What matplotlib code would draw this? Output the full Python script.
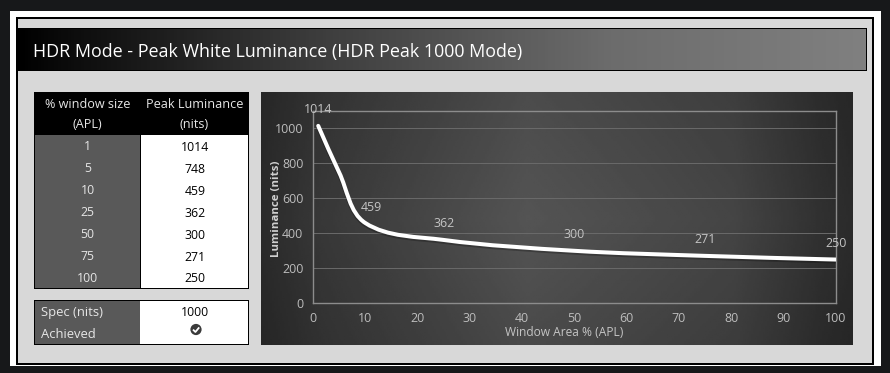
import numpy as np
import matplotlib
matplotlib.use("Agg")
import matplotlib.pyplot as plt
from matplotlib.path import Path
from matplotlib.patches import PathPatch, Rectangle, Circle
from matplotlib.colors import LinearSegmentedColormap
from matplotlib.transforms import Affine2D

window_size = [1, 5, 10, 25, 50, 75, 100]
peak_nits = [1014, 748, 459, 362, 300, 271, 250]
unlabelled_sizes = [5]
title = "HDR Mode - Peak White Luminance (HDR Peak 1000 Mode)"
header_left = ["% window size", "(APL)"]
header_right = ["Peak Luminance", "(nits)"]
spec_labels = ["Spec (nits)", "Achieved"]
spec_value = "1000"
x_ticks = list(range(0, 101, 10))
y_ticks = list(range(0, 1001, 200))

W, H = 890, 373
plt.rcParams["font.family"] = "Open Sans"
fig = plt.figure(figsize=(W / 100, H / 100), dpi=100, facecolor="#17181a")
bg = fig.add_axes([0, 0, 1, 1])
bg.set_xlim(0, W)
bg.set_ylim(H, 0)
bg.axis("off")


def box(x0, y0, x1, y1, fc, z=1):
    bg.add_patch(Rectangle((x0, y0), x1 - x0, y1 - y0, fc=fc, ec="none", lw=0, zorder=z))


def px(size):
    return size * 0.72


box(10, 11, 881, 366, "#ffffff")
box(16, 17, 874, 365, "#000000")
box(18, 19, 872, 363, "#d8d8d8")

# title bar
box(17.5, 28, 867, 71, "#000000")
bar_cmap = LinearSegmentedColormap.from_list(
    "bar", [(0, "#000000"), (0.06, "#0c0c0c"), (0.35, "#3c3c3c"), (0.7, "#6c6c6c"), (1, "#808080")])
bg.imshow(np.linspace(0, 1, 256)[None, :], extent=(18, 866, 70, 29), cmap=bar_cmap,
          aspect="auto", zorder=2, vmin=0, vmax=1)
bg.text(33, 51.5, title, color="white", fontsize=px(17.9), va="center", ha="left", zorder=3)

# table
box(34, 92, 249, 289, "#000000")
box(35, 135, 140, 288, "#595959", z=2)
box(141, 135, 248, 288, "#ffffff", z=2)
row_y = np.linspace(147, 278.5, len(window_size))
for i, yy in zip(range(2), (104.5, 124.5)):
    bg.text(87.5, yy, header_left[i], color="#e6e6e6", fontsize=px(12.6), ha="center", va="center", zorder=3)
    bg.text(194.5, yy, header_right[i], color="#e6e6e6", fontsize=px(12.6), ha="center", va="center", zorder=3)
for yy, w, n in zip(row_y, window_size, peak_nits):
    bg.text(87.5, yy, str(w), color="#e6e6e6", fontsize=px(12.2), ha="center", va="center", zorder=3)
    bg.text(195, yy + 0.5, str(n), color="#000000", fontsize=px(12.2), ha="center", va="center", zorder=3)

# spec box
box(34, 300, 249, 345, "#000000")
box(35, 301, 140, 344, "#595959", z=2)
box(140, 301, 248, 344, "#ffffff", z=2)
bg.text(41, 312.5, spec_labels[0], color="#e6e6e6", fontsize=px(13), ha="left", va="center", zorder=3)
bg.text(41, 334, spec_labels[1], color="#e6e6e6", fontsize=px(13), ha="left", va="center", zorder=3)
bg.text(195, 312, spec_value, color="#000000", fontsize=px(12.2), ha="center", va="center", zorder=3)
bg.add_patch(Circle((196, 329.5), 5.6, fc="#3a3a3a", ec="none", zorder=3))
bg.plot([193, 195.4, 199.2], [329.6, 332, 327.4], color="white", lw=1.3, zorder=4, solid_capstyle="butt")

# chart panel
gx = np.linspace(0, 1, 300)
gy = np.linspace(0, 1, 100)
horiz = np.interp(gx, [0, 0.1, 0.45, 0.8, 0.95, 1], [0.17, 0.22, 0.33, 0.27, 0.19, 0.17])
vert = np.interp(gy, [0, 0.5, 1], [0.90, 1.0, 0.88])
bg.imshow(np.outer(vert, horiz), extent=(261, 853, 345, 92), cmap="gray", vmin=0, vmax=1,
          aspect="auto", zorder=1.5)

# chart axes
L, R, B, T = 313.0, 835.7, 303.3, 110.8
ax = fig.add_axes([L / W, 1 - B / H, (R - L) / W, (B - T) / H], facecolor="none")
ax.set_xlim(0, 100)
ax.set_ylim(0, 1100)
ax.set_xticks(x_ticks)
ax.set_yticks(y_ticks)
ax.tick_params(length=0, colors="#bdbdbd", labelsize=px(12.4))
ax.tick_params(axis="y", pad=7)
ax.tick_params(axis="x", pad=6.5)
ax.grid(axis="y", color="#6a6a6a", lw=0.7)
for s in ax.spines.values():
    s.set_color("#8c8c8c")
    s.set_linewidth(1.0)
ax.set_axisbelow(True)

# smoothed line through the data points
pts = np.column_stack([window_size, peak_nits]).astype(float)
sx, sy = (R - L) / 100, (B - T) / 1100
scr = pts * [sx, sy]
n = len(scr)
seg_len = np.linalg.norm(np.diff(scr, axis=0), axis=1)
tang = np.zeros_like(scr)
for i in range(n):
    t = scr[min(i + 1, n - 1)] - scr[max(i - 1, 0)]
    tang[i] = t / np.linalg.norm(t)
verts = [tuple(pts[0])]
codes = [Path.MOVETO]
for i in range(n - 1):
    d = seg_len[i] / 3
    c1 = (scr[i] + tang[i] * d) / [sx, sy]
    c2 = (scr[i + 1] - tang[i + 1] * d) / [sx, sy]
    verts += [tuple(c1), tuple(c2), tuple(pts[i + 1])]
    codes += [Path.CURVE4] * 3
line_path = Path(verts, codes)
ax.add_patch(PathPatch(line_path, fc="none", ec="#000000", lw=3.4, alpha=0.25, capstyle="round",
                       transform=ax.transData + Affine2D().translate(0, -1.5), zorder=3))
ax.add_patch(PathPatch(line_path, fc="none", ec="white", lw=2.9, capstyle="round", zorder=4))

for w, v in zip(window_size, peak_nits):
    if w in unlabelled_sizes:
        continue
    dx = 4.5 if w == 10 else 0
    ax.annotate(str(v), (w, v), xytext=(dx, 11.5), textcoords="offset points", ha="center", va="center",
                color="#c4c4c4", fontsize=px(12.4), zorder=5, annotation_clip=False)

ax.set_xlabel("Window Area % (APL)", color="#c4c4c4", fontsize=px(12), va="center")
ax.xaxis.set_label_coords((564 - L) / (R - L), (B - 333) / (B - T))
ax.set_ylabel("Luminance (nits)", color="#d0d0d0", fontsize=px(11.5), fontweight="bold", va="center")
ax.yaxis.set_label_coords((276 - L) / (R - L), (B - 209) / (B - T))

bg.set_xlim(0, W)
bg.set_ylim(H, 0)
fig.savefig("out.png", dpi=100, facecolor=fig.get_facecolor())
